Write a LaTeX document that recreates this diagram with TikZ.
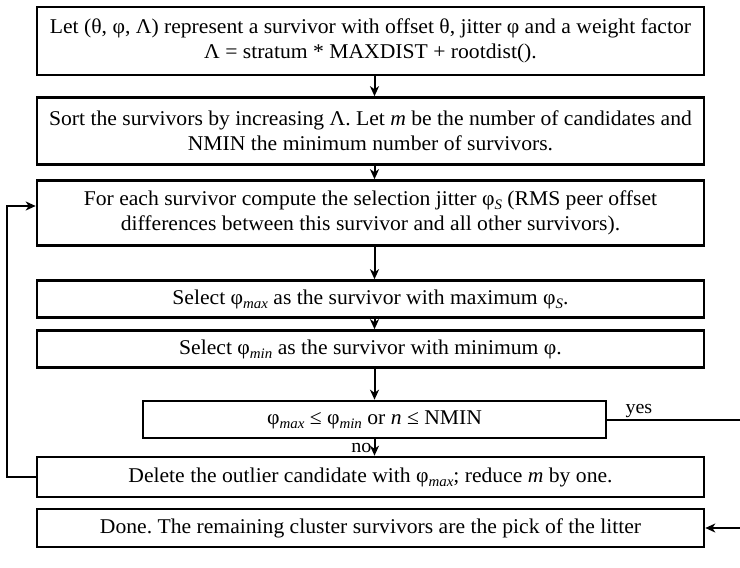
\documentclass[tikz,border=0pt]{standalone}
\usepackage{fontspec}
\setmainfont{Liberation Serif}[FakeStretch=1.03]
\usetikzlibrary{arrows.meta}
% lowered italic subscript used after phi
\newcommand\lowsub[1]{\raisebox{-0.45ex}{\fontsize{14.5}{14.5}\selectfont\itshape #1}}
\begin{document}
\frenchspacing
\begin{tikzpicture}[x=1pt,y=-1pt,
  stepbox/.style={draw, line width=2.6pt, minimum width=667pt, align=center,
    inner sep=0pt, font=\fontsize{21}{25}\selectfont},
  flow/.style={line width=2pt, -{Stealth[length=10pt,width=9pt,inset=3pt]}},
  plain/.style={line width=2pt},
  lbl/.style={font=\fontsize{19.5}{20}\selectfont, inner sep=2pt},
]
\useasboundingbox (0,0) rectangle (740,568);

% process steps
\node[stepbox, minimum height=68pt] (let) at (370.5,41)
  {Let (θ, φ, Λ) represent a survivor with offset θ, jitter φ and a weight factor\\
   Λ = stratum * MAXDIST + rootdist().};
\node[stepbox, minimum height=67pt] (sort) at (370.5,131)
  {Sort the survivors by increasing Λ. Let \textit{m} be the number of candidates and\\
   NMIN the minimum number of survivors.};
\node[stepbox, minimum height=65pt] (each) at (370.5,213)
  {For each survivor compute the selection jitter φ\lowsub{S} (RMS peer offset\\
   differences between this survivor and all other survivors).};
\node[stepbox, minimum height=37pt] (smax) at (370.5,299)
  {Select φ\lowsub{max} as the survivor with maximum φ\lowsub{S}.};
\node[stepbox, minimum height=37pt] (smin) at (370.5,349)
  {Select φ\lowsub{min} as the survivor with minimum φ.};
\node[stepbox, minimum width=463pt, minimum height=37pt] (cond) at (374.5,419.5)
  {φ\lowsub{max} ≤ φ\lowsub{min} or \textit{n} ≤ NMIN};
\node[stepbox, minimum height=40pt] (del) at (370.5,477)
  {Delete the outlier candidate with φ\lowsub{max}; reduce \textit{m} by one.};
\node[stepbox, minimum height=38pt] (done) at (370.5,528)
  {Done. The remaining cluster survivors are the pick of the litter};

% main flow
\draw[flow] (let.south -| cond.north) -- (sort.north -| cond.north);
\draw[flow] (sort.south -| cond.north) -- (each.north -| cond.north);
\draw[flow] (each.south -| cond.north) -- (smax.north -| cond.north);
\draw[flow] (smax.south -| cond.north) -- (smin.north -| cond.north);
\draw[flow] (smin.south -| cond.north) -- (cond.north);
\draw[flow] (cond.south) -- node[lbl, left] (no) {no} (del.north -| cond.south);

% loop back after deleting an outlier
\coordinate (loopx) at (7,0);
\coordinate (loopin) at ([yshift=7pt]each.west);
\draw[flow] (del.west) -| (loopx |- loopin) -- (loopin);

% exit branch, turning beyond the right margin
\coordinate (exitx) at (770,0);
\draw[plain] (cond.east) -- (exitx |- cond.east);
\node[lbl, anchor=south west] (yes) at ([xshift=16pt]cond.east) {yes};
\draw[flow] (exitx |- done.east) -- (done.east);
\end{tikzpicture}
\end{document}
